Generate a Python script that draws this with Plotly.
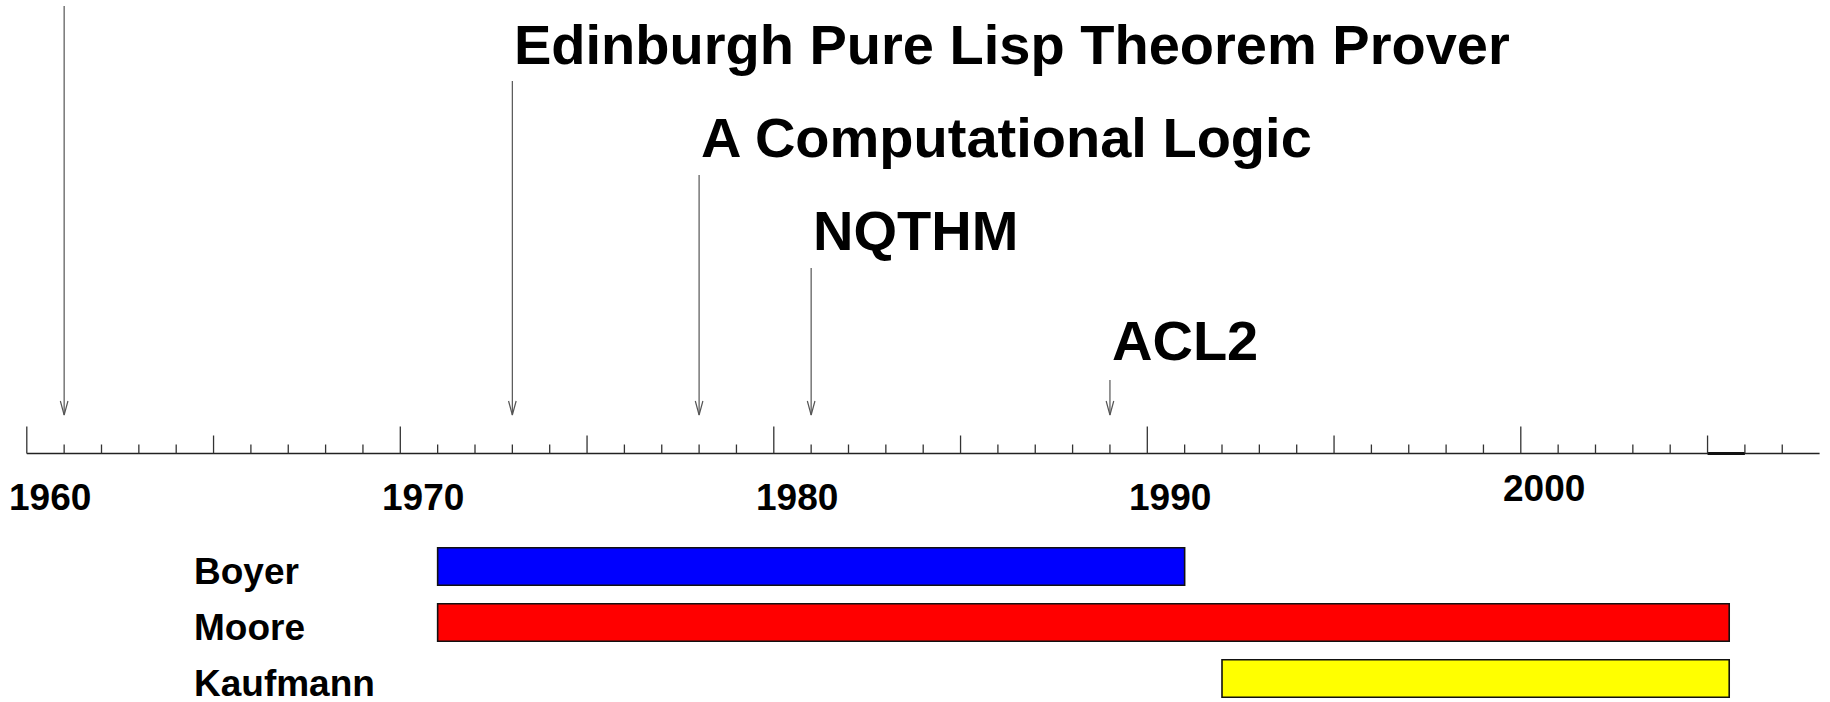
import plotly.graph_objects as go

# ---------------- data ----------------
tick_years = list(range(1960, 2008))
axis_start, axis_end = 1960, 2008
year_labels = [1960, 1970, 1980, 1990, 2000]
now_span = [2005, 2006]

event_names = ["", "Edinburgh Pure Lisp Theorem Prover", "A Computational Logic", "NQTHM", "ACL2"]
event_years = [1961, 1973, 1978, 1981, 1989]

people = ["Boyer", "Moore", "Kaufmann"]
people_start = [1971, 1971, 1992]
people_end = [1991, 2005.58, 2005.58]
people_colors = ["#0000FF", "#FF0000", "#FFFF00"]

# ---------------- layout constants (pixel-like y on the main axis) ----------------
W, H = 1830, 702
PX_PER_YEAR = 37.35
X0_PX = 26.8                     # pixel x of 1960
AXIS_Y = 453.5
ARROW_TIP = 415
arrow_tops = [6, 81, 175, 268, 380]
label_ys = [None, 44, 137, 230, 340]
FONT = "Liberation Sans, Arial, Helvetica, sans-serif"

xr = [1960 - X0_PX / PX_PER_YEAR, 1960 + (W - X0_PX) / PX_PER_YEAR]

fig = go.Figure()

# axis line
fig.add_trace(go.Scatter(x=[axis_start, axis_end], y=[AXIS_Y, AXIS_Y], mode="lines",
                         line=dict(color="#222222", width=1.6), hoverinfo="skip", showlegend=False))
# thick "now" segment
fig.add_trace(go.Scatter(x=now_span, y=[AXIS_Y, AXIS_Y], mode="lines",
                         line=dict(color="#111111", width=3.2), hoverinfo="skip", showlegend=False))

# ticks
tx, ty = [], []
for yr in tick_years:
    h = 27 if yr % 10 == 0 else (18 if yr % 5 == 0 else 9)
    tx += [yr, yr, None]
    ty += [AXIS_Y, AXIS_Y - h, None]
fig.add_trace(go.Scatter(x=tx, y=ty, mode="lines", line=dict(color="#333333", width=1.3),
                         hoverinfo="skip", showlegend=False))

# event arrows (shaft + open V head)
ax, ay = [], []
dx = 3.8 / PX_PER_YEAR
for yr, top in zip(event_years, arrow_tops):
    ax += [yr, yr, None, yr - dx, yr, yr + dx, None]
    ay += [top, ARROW_TIP, None, ARROW_TIP - 14, ARROW_TIP, ARROW_TIP - 14, None]
fig.add_trace(go.Scatter(x=ax, y=ay, mode="lines", line=dict(color="#555555", width=1.2),
                         hoverinfo="skip", showlegend=False))

annotations = []
for name, yr, ly in zip(event_names, event_years, label_ys):
    if not name:
        continue
    annotations.append(dict(x=yr, y=ly, xref="x", yref="y", text="<b>%s</b>" % name,
                            showarrow=False, xanchor="left", yanchor="middle",
                            font=dict(family=FONT, size=56, color="black")))

for yr in year_labels:
    annotations.append(dict(x=yr + 0.62, y=(488 if yr == 2000 else 497), xref="x", yref="y",
                            text="<b>%d</b>" % yr, showarrow=False, xanchor="center",
                            yanchor="middle", font=dict(family=FONT, size=37, color="black")))

# bars
for name, s, e, c in zip(people, people_start, people_end, people_colors):
    fig.add_trace(go.Bar(y=[name], x=[e - s], base=[s], orientation="h", yaxis="y2",
                         width=0.67, marker=dict(color=c, line=dict(color="#111111", width=1.6)),
                         hoverinfo="skip", showlegend=False))
    annotations.append(dict(x=193 / W, y=name, xref="paper", yref="y2", text="<b>%s</b>" % name,
                            showarrow=False, xanchor="left", yanchor="middle", yshift=-5,
                            borderpad=0, font=dict(family=FONT, size=37, color="black")))

CENTER0, SPACING = 566.5, 56.0
y2_range = [(H - CENTER0) / SPACING, (0 - CENTER0) / SPACING]

fig.update_layout(
    width=W, height=H, margin=dict(l=0, r=0, t=0, b=0),
    paper_bgcolor="white", plot_bgcolor="white",
    xaxis=dict(range=xr, visible=False, showgrid=False, zeroline=False),
    yaxis=dict(range=[H, 0], visible=False, showgrid=False, zeroline=False, domain=[0, 1]),
    yaxis2=dict(type="category", categoryorder="array", categoryarray=people, range=y2_range,
                overlaying="y", visible=False, showgrid=False, zeroline=False),
    annotations=annotations, showlegend=False,
)

fig.write_html("out.html", post_script="document.body.style.margin='0';",
               config={"displayModeBar": False})
